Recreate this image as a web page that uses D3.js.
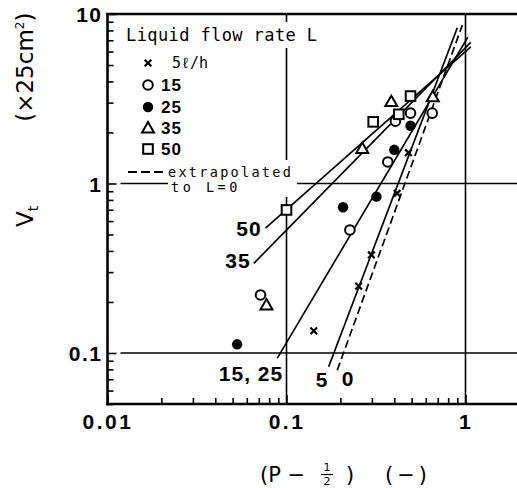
<!DOCTYPE html>
<html><head><meta charset="utf-8">
<script src="https://cdn.jsdelivr.net/npm/d3@7"></script>
<style>
html,body{margin:0;padding:0;background:#fff;}
svg{display:block;}
.num{font-family:'Liberation Sans Narrow','Liberation Sans',Arial,sans-serif;font-weight:bold;}
.tw{font-family:'DejaVu Sans Mono','Liberation Mono',monospace;}
</style>
</head><body>
<svg id="c" width="517" height="488"></svg>
<script>
// ---- data ----
const seriesNames = ["5ℓ/h", "15", "25", "35", "50"];
const seriesSymbols = ["cross", "circle", "dot", "triangle", "square"];
const s5  = [[0.142,0.135],[0.253,0.248],[0.298,0.379],[0.415,0.875],[0.48,1.52]];
const s15 = [[0.0716,0.22],[0.226,0.532],[0.368,1.34],[0.406,2.33],[0.493,2.60],[0.652,2.60]];
const s25 = [[0.053,0.1125],[0.207,0.724],[0.318,0.836],[0.40,1.58],[0.493,2.19]];
const s35 = [[0.0773,0.192],[0.265,1.61],[0.385,3.04],[0.656,3.25]];
const s50 = [[0.1,0.698],[0.305,2.31],[0.424,2.56],[0.493,3.28]];
const seriesData = [s5, s15, s25, s35, s50];

const lineLabels = ["50", "35", "15, 25", "5", "0"];
const lineStart = [[0.0763,0.546],[0.0657,0.338],[0.0887,0.093],[0.172,0.083],[0.192,0.079]];
const lineEnd   = [[1.07,6.4],[1.07,6.8],[1.03,7.3],[0.90,8.3],[0.96,8.6]];
const lineDashed = [false,false,false,false,true];

const xMajor = [0.01, 0.1, 1];
const xMajorLabels = ["0.01", "0.1", "1"];
const xMinor = [0.02,0.03,0.04,0.05,0.06,0.07,0.08,0.09,0.2,0.3,0.4,0.5,0.6,0.7,0.8,0.9,2];
const yMajor = [0.1, 1, 10];
const yMajorLabels = ["0.1", "1", "10"];
const yMinor = [0.05,0.06,0.07,0.08,0.09,0.2,0.3,0.4,0.5,0.6,0.7,0.8,0.9,2,3,4,5,6,7,8,9];

// ---- layout ----
const svg = d3.select("#c");
const L = 107.5, T = 14, B = 404;
const x = d3.scaleLog().domain([0.01, 2]).range([L, L + 179 * Math.log10(200)]);
const y = d3.scaleLog().domain([0.05, 10]).range([B, T]);
const R = 520;

// gridlines
const g = svg.append("g").attr("stroke","#000").attr("stroke-width",1.6);
[0.1, 1].forEach(v => {
  g.append("line").attr("x1",x(v)).attr("x2",x(v)).attr("y1",T).attr("y2",B);
  g.append("line").attr("x1",L+13).attr("x2",R).attr("y1",y(v)).attr("y2",y(v));
});

// white knockouts behind legend texts
const ko = svg.append("g").attr("fill","#fff");
ko.append("rect").attr("x",122).attr("y",22).attr("width",200).attr("height",26);
ko.append("rect").attr("x",125).attr("y",160).attr("width",172).attr("height",20);
ko.append("rect").attr("x",168).attr("y",178).attr("width",129).attr("height",19);

// axes (minor + major ticks)
function styleAxis(sel){
  sel.select(".domain").remove();
  sel.selectAll(".tick line").attr("stroke","#000").attr("stroke-width",1.6);
}
svg.append("g").attr("transform",`translate(${L},0)`)
  .call(d3.axisLeft(y).tickValues(yMinor).tickSize(-6).tickFormat(""))
  .call(styleAxis);
svg.append("g").attr("transform",`translate(${L},0)`)
  .call(d3.axisLeft(y).tickValues(yMajor).tickSize(-9).tickPadding(5)
        .tickFormat((d,i)=>yMajorLabels[i]))
  .call(styleAxis)
  .call(s=>s.selectAll("text").attr("class","num").attr("font-size",21)
        .attr("fill","#000").attr("letter-spacing",1.5).attr("dy","0.36em"));
svg.append("g").attr("transform",`translate(0,${B})`)
  .call(d3.axisBottom(x).tickValues(xMinor).tickSize(-6).tickFormat(""))
  .call(styleAxis);
svg.append("g").attr("transform",`translate(0,${B})`)
  .call(d3.axisBottom(x).tickValues(xMajor).tickSize(-9).tickPadding(10)
        .tickFormat((d,i)=>xMajorLabels[i]))
  .call(styleAxis)
  .call(s=>s.selectAll("text").attr("class","num").attr("font-size",21)
        .attr("fill","#000").attr("letter-spacing",2.5));

// frame
const fr = svg.append("g").attr("stroke","#000").attr("stroke-width",2.6).attr("fill","none");
fr.append("line").attr("x1",L).attr("x2",L).attr("y1",T-1).attr("y2",B+1.2);
fr.append("line").attr("x1",L-1.2).attr("x2",R).attr("y1",B).attr("y2",B);
fr.append("line").attr("x1",L-1.2).attr("x2",R).attr("y1",T).attr("y2",T);

// fitted lines
const line = d3.line().x(d=>x(d[0])).y(d=>y(d[1]));
lineLabels.forEach((lab,i)=>{
  svg.append("path").attr("d", line([lineStart[i], lineEnd[i]]))
    .attr("stroke","#000").attr("stroke-width",1.7).attr("fill","none")
    .attr("stroke-dasharray", lineDashed[i] ? "8,4" : null);
});

// line labels
const labPos = [[249,236],[238,268],[251,381],[322,387],[348,386]];
lineLabels.forEach((lab,i)=>{
  svg.append("text").attr("class","num").attr("font-size",21).attr("letter-spacing",1)
    .attr("x",labPos[i][0]).attr("y",labPos[i][1]).attr("text-anchor","middle").text(lab);
});

// markers
function drawMarker(sel, type, cx, cy){
  if(type==="cross"){
    const s=3.3;
    sel.append("path").attr("d",`M${cx-s},${cy-s}L${cx+s},${cy+s}M${cx-s},${cy+s}L${cx+s},${cy-s}`)
      .attr("stroke","#000").attr("stroke-width",2.2);
  } else if(type==="circle"){
    sel.append("circle").attr("cx",cx).attr("cy",cy).attr("r",4.8)
      .attr("fill","#fff").attr("stroke","#000").attr("stroke-width",2);
  } else if(type==="dot"){
    sel.append("circle").attr("cx",cx).attr("cy",cy).attr("r",5.2).attr("fill","#000");
  } else if(type==="triangle"){
    sel.append("path").attr("transform",`translate(${cx},${cy+1})`)
      .attr("d", d3.symbol(d3.symbolTriangle, 62)())
      .attr("fill","#fff").attr("stroke","#000").attr("stroke-width",2);
  } else if(type==="square"){
    sel.append("rect").attr("x",cx-4.8).attr("y",cy-4.8).attr("width",9.6).attr("height",9.6)
      .attr("fill","#fff").attr("stroke","#000").attr("stroke-width",2);
  }
}
const mk = svg.append("g");
seriesData.forEach((arr,i)=>{
  arr.forEach(d=>drawMarker(mk, seriesSymbols[i], x(d[0]), y(d[1])));
});

// legend
svg.append("text").attr("class","tw").attr("font-size",17).attr("letter-spacing",0.4)
  .attr("x",126).attr("y",41).text("Liquid flow rate L");
const legY = [63, 85, 107, 128, 149];
seriesNames.forEach((n,i)=>{
  drawMarker(svg, seriesSymbols[i], 148, legY[i]);
  if(i===0){
    svg.append("text").attr("class","tw").attr("font-size",15).attr("x",172).attr("y",legY[i]+5).text(n);
  } else {
    svg.append("text").attr("class","num").attr("font-size",17).attr("letter-spacing",1)
      .attr("x",161).attr("y",legY[i]+6).text(n);
  }
});
svg.append("line").attr("x1",128).attr("x2",167).attr("y1",172).attr("y2",172)
  .attr("stroke","#000").attr("stroke-width",2).attr("stroke-dasharray","9,4");
svg.append("text").attr("class","tw").attr("font-size",13.5).attr("letter-spacing",2.3)
  .attr("x",168).attr("y",177).text("extrapolated");
svg.append("text").attr("class","tw").attr("font-size",13.5).attr("letter-spacing",3.5)
  .attr("x",171).attr("y",192).text("to L=0");

// axis titles
const yt = svg.append("text").attr("font-family","'DejaVu Sans',sans-serif").attr("font-size",23)
  .attr("transform","translate(33,227) rotate(-90)");
yt.append("tspan").text("V");
yt.append("tspan").attr("font-size",14).attr("dy",5).text("t");
yt.append("tspan").attr("dy",-5).attr("dx",84).text("(×25cm");
yt.append("tspan").attr("font-size",12).attr("dy",-9).text("2");
yt.append("tspan").attr("dy",9).text(")");

const xt = svg.append("g").attr("font-family","'DejaVu Sans',sans-serif");
xt.append("text").attr("font-size",21).attr("x",260).attr("y",482).text("(P −");
xt.append("text").attr("font-size",11).attr("x",327).attr("y",471).attr("text-anchor","middle").text("1");
xt.append("line").attr("x1",321).attr("x2",333).attr("y1",474.5).attr("y2",474.5).attr("stroke","#000").attr("stroke-width",1.2);
xt.append("text").attr("font-size",11).attr("x",327).attr("y",485).attr("text-anchor","middle").text("2");
xt.append("text").attr("font-size",21).attr("x",346).attr("y",482).text(")");
xt.append("text").attr("font-size",21).attr("x",385).attr("y",482).attr("letter-spacing",4).text("(−)");
</script>
</body></html>
